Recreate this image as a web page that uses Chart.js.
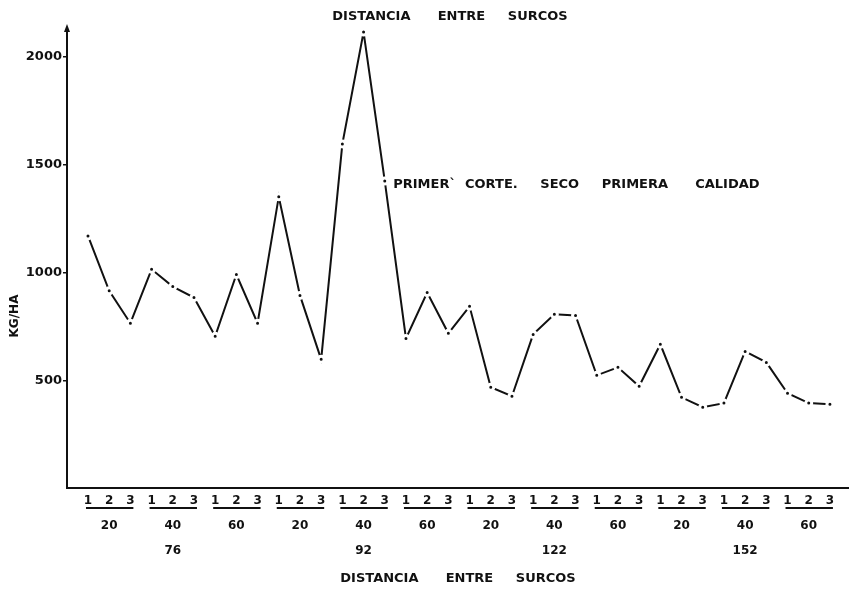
<!DOCTYPE html>
<html><head><meta charset="utf-8">
<script src="https://cdn.jsdelivr.net/npm/chart.js@4.4.0/dist/chart.umd.min.js"></script>
<style>html,body{margin:0;padding:0;background:#fff;}#wrap{width:849px;height:597px;position:relative;}</style>
</head><body><div id="wrap"><canvas id="c"></canvas></div>
<script>
// ---- data ----
const plotNumbers = ['1', '2', '3'];
const plantDistances = ['20', '40', '60'];
const rowDistances = ['76', '92', '122', '152'];
const yields = [1170, 915, 765, 1015, 935, 884, 704, 991, 765, 1352, 894, 597,
                1597, 2116, 1425, 694, 907, 718, 843, 468, 426, 713, 806, 801,
                523, 560, 472, 667, 421, 375, 394, 634, 583, 440, 394, 389];
const yTicks = [500, 1000, 1500, 2000];
const titleText = 'DISTANCIA      ENTRE     SURCOS';
const noteText = 'PRIMER`  CORTE.     SECO     PRIMERA      CALIDAD';
const xTitle = 'DISTANCIA      ENTRE     SURCOS';
const yTitle = 'KG/HA';

const INK = '#111';
const FONT = '"DejaVu Sans", sans-serif';

function tickLabel(i) {
  const sub = plotNumbers[i % 3];
  const grp = (i % 3 === 1) ? plantDistances[Math.floor(i / 3) % 3] : '';
  const row = (i % 9 === 4) ? rowDistances[Math.floor(i / 9)] : '';
  return [sub, grp, row];
}

const decor = {
  id: 'decor',
  afterDraw(chart) {
    const ctx = chart.ctx;
    const xs = chart.scales.x, ys = chart.scales.y;
    const ca = chart.chartArea;
    ctx.save();
    ctx.fillStyle = INK;
    ctx.strokeStyle = INK;
    // arrow at top of y axis
    ctx.beginPath();
    ctx.moveTo(ca.left, ca.top - 4);
    ctx.lineTo(ca.left - 3, ca.top + 4);
    ctx.lineTo(ca.left + 3, ca.top + 4);
    ctx.closePath();
    ctx.fill();
    // underlines under each group of 1 2 3
    ctx.lineWidth = 1.8;
    const nGroups = yields.length / 3;
    for (let g = 0; g < nGroups; g++) {
      const x0 = xs.getPixelForValue(g * 3) - 2;
      const x1 = xs.getPixelForValue(g * 3 + 2) + 3;
      ctx.beginPath();
      ctx.moveTo(x0, ca.bottom + 20);
      ctx.lineTo(x1, ca.bottom + 20);
      ctx.stroke();
    }
    // top title
    ctx.font = 'bold 13px ' + FONT;
    ctx.textAlign = 'center';
    ctx.textBaseline = 'middle';
    ctx.fillText(titleText, 450, 17);
    // note
    ctx.textAlign = 'left';
    ctx.fillText(noteText, xs.getPixelForValue(14.4), ys.getPixelForValue(1410));
    // y title
    ctx.save();
    ctx.translate(15, 316);
    ctx.rotate(-Math.PI / 2);
    ctx.textAlign = 'center';
    ctx.font = 'bold 12px ' + FONT;
    ctx.fillText(yTitle, 0, 0);
    ctx.restore();
    ctx.restore();
  }
};

new Chart(document.getElementById('c'), {
  type: 'line',
  data: {
    datasets: [{
      data: yields.map((v, i) => ({ x: i, y: v })),
      borderColor: INK,
      borderWidth: 2,
      pointRadius: 3,
      pointBorderWidth: 3,
      pointBorderColor: '#fff',
      pointBackgroundColor: INK,
      tension: 0,
      fill: false
    }]
  },
  options: {
    responsive: true,
    maintainAspectRatio: false,
    animation: false,
    layout: { autoPadding: false, padding: { top: 28, right: 0, left: 0, bottom: 0 } },
    plugins: { legend: { display: false }, tooltip: { enabled: false }, title: { display: false } },
    scales: {
      x: {
        type: 'linear',
        min: -0.99,
        max: 35.9,
        afterBuildTicks(scale) { scale.ticks = yields.map((v, i) => ({ value: i })); },
        afterFit(scale) { scale.height = 109; scale.paddingLeft = 0; scale.paddingRight = 0; },
        grid: { display: false, drawTicks: false },
        border: { display: true, color: INK, width: 2 },
        ticks: {
          autoSkip: false,
          maxRotation: 0,
          padding: 0,
          color: INK,
          font: { family: FONT, size: 12, weight: 'bold', lineHeight: '25px' },
          callback: (v) => tickLabel(v)
        },
        title: {
          display: true,
          text: xTitle,
          color: INK,
          font: { family: FONT, size: 13, weight: 'bold', lineHeight: 1.2 },
          padding: { top: 0, bottom: 11 }
        }
      },
      y: {
        min: 0,
        max: 2135,
        afterBuildTicks(scale) { scale.ticks = yTicks.map(v => ({ value: v })); },
        afterFit(scale) { scale.width = 67; },
        grid: { drawOnChartArea: false, drawTicks: true, tickLength: 4, color: INK, lineWidth: 1.5 },
        border: { display: true, color: INK, width: 2 },
        ticks: {
          padding: 1,
          color: INK,
          font: { family: FONT, size: 13, weight: 'bold' },
          callback: (v) => String(v)
        },
        title: { display: false }
      }
    }
  },
  plugins: [decor]
});
</script></body></html>
